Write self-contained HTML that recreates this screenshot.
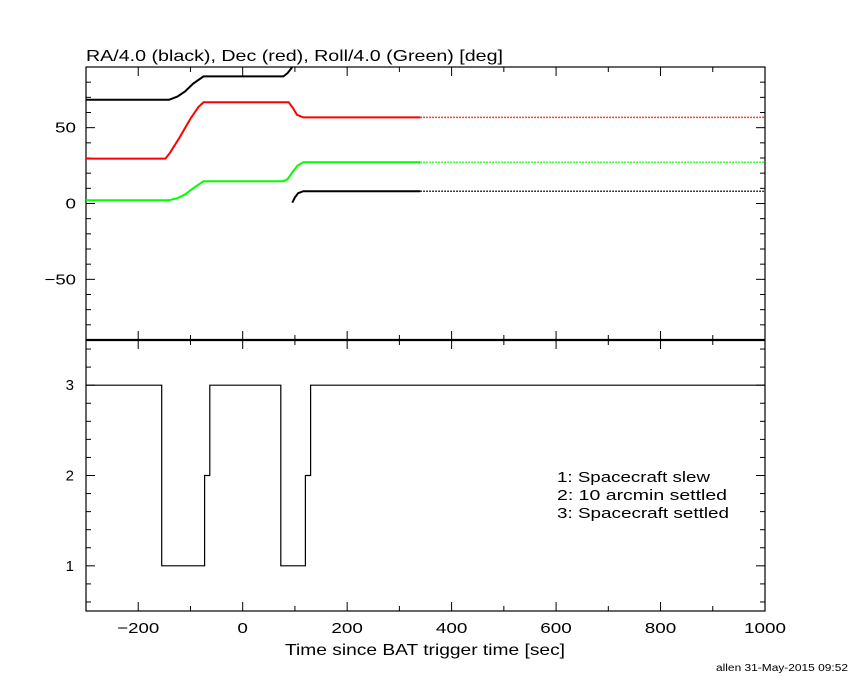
<!DOCTYPE html>
<html><head><meta charset="utf-8"><style>
body{margin:0;background:#fff;}
svg text{font-family:"Liberation Sans",sans-serif;fill:#000;}
</style></head><body>
<svg id="chart" width="850" height="680" xmlns="http://www.w3.org/2000/svg">
<text x="86" y="61" font-size="16" textLength="417" lengthAdjust="spacingAndGlyphs">RA/4.0 (black), Dec (red), Roll/4.0 (Green) [deg]</text>
<text x="285" y="655" font-size="16" textLength="280" lengthAdjust="spacingAndGlyphs">Time since BAT trigger time [sec]</text>
<text x="716" y="671" font-size="10" textLength="132" lengthAdjust="spacingAndGlyphs">allen 31-May-2015 09:52</text>
<g font-size="15">
<text x="557" y="482" textLength="153" lengthAdjust="spacingAndGlyphs">1: Spacecraft slew</text>
<text x="557" y="500" textLength="170" lengthAdjust="spacingAndGlyphs">2: 10 arcmin settled</text>
<text x="557" y="518" textLength="172" lengthAdjust="spacingAndGlyphs">3: Spacecraft settled</text>
</g>
<g id="marks"></g>
</svg>
<script>
const xTicks=[-200,0,200,400,600,800,1000];
const topYTicks=[-50,0,50];
const botYTicks=[1,2,3];
const raT=[-300,-141,-125,-110,-95,-75,78,86,95];
const raV=[68.4,68.4,70.5,74,79,83.8,83.8,86,90];
const ra2T=[95,100,106,116,340,1000];
const ra2V=[0.5,4,6.8,8.1,8.1,8.1];
const decT=[-300,-148,-140,-120,-100,-85,-75,88,96,104,116,340,1000];
const decV=[29.6,29.6,33,44,56,63.5,66.7,66.7,63,58.5,56.8,56.8,56.8];
const rollT=[-300,-141,-125,-110,-95,-75,78,86,95,105,116,340,1000];
const rollV=[2.2,2.2,3.5,6,10,14.7,14.7,16,20.5,25,27.2,27.2,27.2];
const stepT=[-300,-155,-73,-63,73,120,130,1000];
const stepV=[3,1,2,3,1,2,3,3];
const solidEnd=340;

const X0=86,X1=765,TOP=67,MID=340,BOT=611;
const sx=t=>X0+(t+300)/1300*(X1-X0);
const syTop=v=>TOP+(90-v)/180*(MID-TOP);
const syBot=v=>MID+(3.5-v)/3*(BOT-MID);
const NS="http://www.w3.org/2000/svg";
const g=document.getElementById('marks');
function mk(tag,attrs){const e=document.createElementNS(NS,tag);for(const k in attrs)e.setAttribute(k,attrs[k]);g.appendChild(e);return e;}
function line(x1,y1,x2,y2,w){return mk('line',{x1,y1,x2,y2,stroke:'#000','stroke-width':w||1});}

let fr=mk('rect',{x:X0,y:TOP,width:X1-X0,height:BOT-TOP,fill:'none',stroke:'#000','stroke-width':1.2});


let md=line(X0,MID,X1,MID,2.2);



for(let t=-300;t<=1000;t+=100){
  const x=sx(t),L=(t%200===0)?9:5;
  line(x,TOP,x,TOP+L);line(x,MID,x,MID-L);line(x,MID,x,MID+L);line(x,BOT,x,BOT-L);
}
xTicks.forEach(t=>{
  const s=(t<0?'\u2212'+(-t):String(t));
  const w=s.length*10.5;
  const e=mk('text',{x:sx(t)-w/2,y:BOT+22,'font-size':15,textLength:w,lengthAdjust:'spacingAndGlyphs'});
  e.textContent=s;
  
  
});
for(let v=-80;v<=90;v+=10){const y=syTop(v),L=(v%50===0)?9:5;line(X0,y,X0+L,y);line(X1,y,X1-L,y);}
topYTicks.forEach(v=>{
  const s=(v<0?'\u2212'+(-v):String(v));
  const w=s.length*10.5;
  const e=mk('text',{x:X0-10-w,y:syTop(v)+5,'font-size':15,textLength:w,lengthAdjust:'spacingAndGlyphs'});
  e.textContent=s;
  
  
});
for(let i=3;i<=17;i++){const v=i/5,y=syBot(v),L=(i%5===0)?9:5;line(X0,y,X0+L,y);line(X1,y,X1-L,y);}
botYTicks.forEach(v=>{
  const e=mk('text',{x:X0-12,y:syBot(v)+5,'font-size':15,'text-anchor':'end'});
  e.textContent=v;
  
  
});

function series(T,V,color,name){
  let solid=[],dot=[];
  for(let i=0;i<T.length;i++){
    const p=sx(T[i]).toFixed(1)+','+Math.max(TOP,syTop(V[i])).toFixed(1);
    if(T[i]<=solidEnd)solid.push(p);
    if(T[i]>=solidEnd)dot.push(p);
  }
  const a=mk('polyline',{points:solid.join(' '),fill:'none',stroke:color,'stroke-width':2});
  
  
  if(dot.length>1){
    const b=mk('polyline',{points:dot.join(' '),fill:'none',stroke:color,'stroke-width':1.5,'stroke-dasharray':'1.5,1.5'});
    
    
  }
}
series(raT,raV,'#000','ra-line');
series(ra2T,ra2V,'#000','ra-wrapped-line');
series(decT,decV,'#f00','dec-line');
series(rollT,rollV,'#0f0','roll-line');

let pts=[];
for(let i=0;i<stepT.length-1;i++){
  pts.push(sx(stepT[i]).toFixed(1)+','+syBot(stepV[i]).toFixed(1));
  pts.push(sx(stepT[i+1]).toFixed(1)+','+syBot(stepV[i]).toFixed(1));
}
const st=mk('polyline',{points:pts.join(' '),fill:'none',stroke:'#000','stroke-width':1.2});


</script>
</body></html>
